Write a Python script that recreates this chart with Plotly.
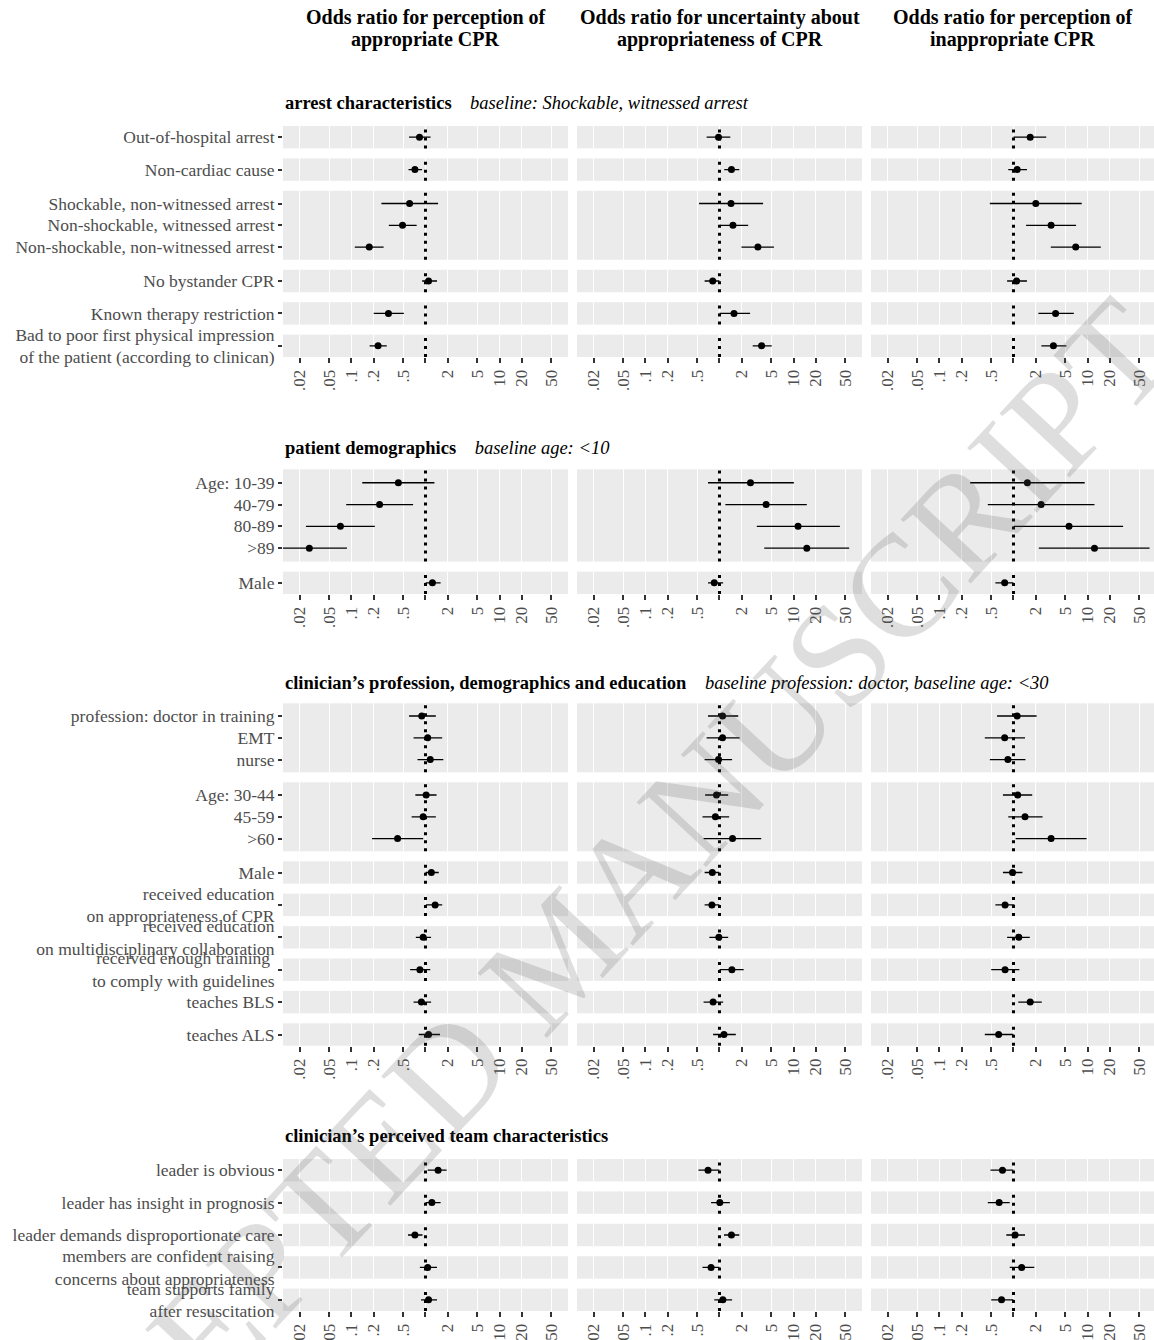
import plotly.graph_objects as go

W, H = 1154, 1340
FONT = "Liberation Serif"

# ---------------- column headings ----------------
column_titles = [
    ["Odds ratio for perception of", "appropriate CPR"],
    ["Odds ratio for uncertainty about", "appropriateness of CPR"],
    ["Odds ratio for perception of", "inappropriate CPR"],
]

x_tick_values = [0.02, 0.05, 0.1, 0.2, 0.5, 1, 2, 5, 10, 20, 50]
x_tick_labels = [".02", ".05", ".1", ".2", ".5", "", "2", "5", "10", "20", "50"]

# ---------------- arrest characteristics ----------------
arrest_groups = [
    ["Out-of-hospital arrest"],
    ["Non-cardiac cause"],
    ["Shockable, non-witnessed arrest", "Non-shockable, witnessed arrest",
     "Non-shockable, non-witnessed arrest"],
    ["No bystander CPR"],
    ["Known therapy restriction"],
    ["Bad to poor first physical impression<br>of the patient (according to clinican)"],
]
arrest_or_appropriate = [0.83, 0.72, 0.61, 0.49, 0.174, 1.10, 0.316, 0.229]
arrest_lo_appropriate = [0.60, 0.59, 0.254, 0.32, 0.111, 0.90, 0.20, 0.176]
arrest_hi_appropriate = [1.17, 0.90, 1.48, 0.76, 0.272, 1.43, 0.51, 0.30]
arrest_or_uncertain = [0.97, 1.45, 1.43, 1.52, 3.30, 0.81, 1.57, 3.70]
arrest_lo_uncertain = [0.67, 1.16, 0.53, 1.00, 1.98, 0.63, 1.00, 2.81]
arrest_hi_uncertain = [1.40, 1.85, 3.88, 2.44, 5.43, 1.00, 2.59, 5.07]
arrest_or_inappropriate = [1.68, 1.12, 2.00, 3.22, 6.92, 1.10, 3.70, 3.46]
arrest_lo_inappropriate = [1.00, 0.85, 0.48, 1.48, 3.19, 0.82, 2.17, 2.38]
arrest_hi_inappropriate = [2.77, 1.52, 8.34, 7.00, 15.1, 1.52, 6.53, 5.18]

# ---------------- patient demographics ----------------
patient_groups = [
    ["Age: 10-39", "40-79", "80-89", ">89"],
    ["Male"],
]
patient_or_appropriate = [0.43, 0.24, 0.071, 0.027, 1.24]
patient_lo_appropriate = [0.14, 0.085, 0.0243, 0.010, 1.00]
patient_hi_appropriate = [1.32, 0.68, 0.207, 0.087, 1.60]
patient_or_uncertain = [2.62, 4.26, 11.5, 15.1, 0.85]
patient_lo_uncertain = [0.70, 1.20, 3.19, 4.02, 0.70]
patient_hi_uncertain = [10.1, 15.1, 42.2, 56.4, 1.12]
patient_or_inappropriate = [1.54, 2.36, 5.62, 12.4, 0.76]
patient_lo_inappropriate = [0.26, 0.45, 1.00, 2.20, 0.57]
patient_hi_inappropriate = [9.15, 12.4, 30.2, 68.7, 1.00]

# ---------------- clinician's profession, demographics and education ----------------
clinician_groups = [
    ["profession: doctor in training", "EMT", "nurse"],
    ["Age: 30-44", "45-59", ">60"],
    ["Male"],
    ["received education<br>on appropriateness of CPR"],
    ["received education<br>on multidisciplinary collaboration"],
    ["received enough training\u00a0<br>to comply with guidelines"],
    ["teaches BLS"],
    ["teaches ALS"],
]
clinician_or_appropriate = [0.89, 1.07, 1.16, 1.02, 0.93, 0.42, 1.20, 1.35, 0.93, 0.84, 0.88, 1.10]
clinician_lo_appropriate = [0.60, 0.69, 0.78, 0.73, 0.65, 0.19, 1.00, 1.01, 0.74, 0.62, 0.69, 0.81]
clinician_hi_appropriate = [1.38, 1.68, 1.74, 1.41, 1.38, 0.93, 1.51, 1.68, 1.19, 1.16, 1.19, 1.57]
clinician_or_uncertain = [1.10, 1.10, 0.97, 0.91, 0.88, 1.50, 0.80, 0.79, 0.98, 1.47, 0.82, 1.15]
clinician_lo_uncertain = [0.70, 0.67, 0.63, 0.64, 0.59, 0.61, 0.63, 0.63, 0.73, 1.00, 0.61, 0.82]
clinician_hi_uncertain = [1.79, 1.87, 1.48, 1.31, 1.35, 3.66, 1.00, 1.00, 1.31, 2.12, 1.12, 1.66]
clinician_or_inappropriate = [1.12, 0.76, 0.84, 1.14, 1.43, 3.22, 0.97, 0.77, 1.18, 0.77, 1.68, 0.63]
clinician_lo_inappropriate = [0.60, 0.41, 0.48, 0.72, 0.85, 1.07, 0.72, 0.57, 0.82, 0.50, 1.16, 0.41]
clinician_hi_inappropriate = [2.05, 1.43, 1.45, 1.79, 2.47, 9.69, 1.32, 1.03, 1.66, 1.20, 2.41, 1.00]

# ---------------- clinician's perceived team characteristics ----------------
team_groups = [
    ["leader is obvious"],
    ["leader has insight in prognosis"],
    ["leader demands disproportionate care"],
    ["members are confident raising<br>concerns about appropriateness"],
    ["team supports family<br>after resuscitation"],
]
team_or_appropriate = [1.48, 1.22, 0.72, 1.07, 1.10]
team_lo_appropriate = [1.07, 1.00, 0.58, 0.84, 0.87]
team_hi_appropriate = [1.93, 1.60, 0.91, 1.43, 1.43]
team_or_uncertain = [0.70, 1.01, 1.45, 0.77, 1.11]
team_lo_uncertain = [0.52, 0.77, 1.15, 0.59, 0.85]
team_hi_uncertain = [1.00, 1.38, 1.85, 1.00, 1.48]
team_or_inappropriate = [0.71, 0.64, 1.05, 1.29, 0.69]
team_lo_inappropriate = [0.49, 0.45, 0.80, 0.89, 0.50]
team_hi_inappropriate = [1.00, 0.89, 1.43, 1.91, 1.00]

sections = [
    ("arrest characteristics", "baseline: Shockable, witnessed arrest", arrest_groups,
     [(arrest_or_appropriate, arrest_lo_appropriate, arrest_hi_appropriate),
      (arrest_or_uncertain, arrest_lo_uncertain, arrest_hi_uncertain),
      (arrest_or_inappropriate, arrest_lo_inappropriate, arrest_hi_inappropriate)]),
    ("patient demographics", "baseline age: &lt;10", patient_groups,
     [(patient_or_appropriate, patient_lo_appropriate, patient_hi_appropriate),
      (patient_or_uncertain, patient_lo_uncertain, patient_hi_uncertain),
      (patient_or_inappropriate, patient_lo_inappropriate, patient_hi_inappropriate)]),
    ("clinician\u2019s profession, demographics and education",
     "baseline profession: doctor, baseline age: &lt;30", clinician_groups,
     [(clinician_or_appropriate, clinician_lo_appropriate, clinician_hi_appropriate),
      (clinician_or_uncertain, clinician_lo_uncertain, clinician_hi_uncertain),
      (clinician_or_inappropriate, clinician_lo_inappropriate, clinician_hi_inappropriate)]),
    ("clinician\u2019s perceived team characteristics", "", team_groups,
     [(team_or_appropriate, team_lo_appropriate, team_hi_appropriate),
      (team_or_uncertain, team_lo_uncertain, team_hi_uncertain),
      (team_or_inappropriate, team_lo_inappropriate, team_hi_inappropriate)]),
]

# ---------------- page geometry (pixels) ----------------
COL_PX = [(283, 568), (577, 862), (871, 1154)]
LOG_LO = -1.924
PX_PER_DECADE = 74.06
SECTION_TITLE_Y = [103, 448, 683, 1136]
SECTION_TOP = [126, 469.3, 703.3, 1159]
STRIP_BASE = 22.4
STRIP_PER_ROW = 23.3
STRIP_GAP = 10
ROW_PITCH = 21.8

fig = go.Figure()
axes = {}
shapes = []
annotations = []
k = 0

for s_idx, (title, baseline, groups, cols) in enumerate(sections):
    top = SECTION_TOP[s_idx]
    start = 0
    for g_idx, labels in enumerate(groups):
        n = len(labels)
        h = STRIP_BASE + (n - 1) * STRIP_PER_ROW
        bottom = top + h
        last = g_idx == len(groups) - 1
        span = h / ROW_PITCH
        mid = (n - 1) / 2
        for c_idx, (ors, los, his) in enumerate(cols):
            k += 1
            sfx = "" if k == 1 else str(k)
            x0, x1 = COL_PX[c_idx]
            o = ors[start:start + n]
            lo = los[start:start + n]
            hi = his[start:start + n]
            fig.add_trace(go.Scatter(
                x=o, y=labels, xaxis="x" + sfx, yaxis="y" + sfx,
                mode="markers", marker=dict(size=7, color="black"),
                error_x=dict(type="data", symmetric=False,
                             array=[b - a for a, b in zip(o, hi)],
                             arrayminus=[a - b for a, b in zip(o, lo)],
                             color="black", thickness=1.3, width=0),
                showlegend=False, hoverinfo="x+y"))
            axes["xaxis" + sfx] = dict(
                domain=[x0 / W, x1 / W], anchor="y" + sfx, type="log",
                range=[LOG_LO, LOG_LO + (x1 - x0) / PX_PER_DECADE],
                tickmode="array", tickvals=x_tick_values, ticktext=x_tick_labels,
                showgrid=True, gridcolor="white", gridwidth=1.3,
                zeroline=False, showline=False,
                ticks="outside" if last else "", ticklen=5, tickwidth=2.2,
                tickcolor="#333333", showticklabels=last, tickangle=-90,
                tickfont=dict(family=FONT, size=17, color="#4D4D4D"))
            axes["yaxis" + sfx] = dict(
                domain=[1 - bottom / H, 1 - top / H], anchor="x" + sfx,
                type="category", categoryorder="array", categoryarray=labels,
                range=[mid + span / 2, mid - span / 2],
                showgrid=False, zeroline=False, showline=False,
                ticks="outside" if c_idx == 0 else "", ticklen=4, tickwidth=2.2,
                tickcolor="#333333", showticklabels=c_idx == 0,
                tickfont=dict(family=FONT, size=17.5, color="#4D4D4D"))
            # reference line at odds ratio 1
            shapes.append(dict(type="line", xref="x" + sfx, yref=f"y{sfx} domain",
                               x0=1, x1=1, y0=0, y1=1, layer="above",
                               line=dict(color="black", width=3, dash="3px,5px")))
        start += n
        top = bottom + STRIP_GAP

    head = f"<b>{title}</b>"
    if baseline:
        head += f"\u2002\u2002<i>{baseline}</i>"
    annotations.append(dict(text=head, xref="paper", yref="paper",
                            x=COL_PX[0][0] / W, y=1 - SECTION_TITLE_Y[s_idx] / H,
                            xanchor="left", yanchor="middle", showarrow=False,
                            font=dict(family=FONT, size=18.5, color="black")))

for c_idx, lines in enumerate(column_titles):
    cx = (COL_PX[c_idx][0] + COL_PX[c_idx][1]) / 2
    for line, ly in zip(lines, [18, 39]):
        annotations.append(dict(text=f"<b>{line}</b>", xref="paper", yref="paper",
                                x=cx / W, y=1 - ly / H, xanchor="center", yanchor="middle",
                                showarrow=False,
                                font=dict(family=FONT, size=20, color="black")))

# diagonal watermark
annotations.append(dict(text="ACCEPTED MANUSCRIPT", xref="paper", yref="paper",
                        x=559 / W, y=1 - 953 / H, xanchor="center", yanchor="middle",
                        textangle=-47, showarrow=False,
                        font=dict(family=FONT, size=145, color="rgba(90,90,90,0.2)")))

fig.update_layout(
    template="none", width=W, height=H,
    margin=dict(l=0, r=0, t=0, b=0),
    plot_bgcolor="#EBEBEB", paper_bgcolor="white",
    font=dict(family=FONT, color="#4D4D4D"),
    shapes=shapes, annotations=annotations, showlegend=False,
    **axes)

fig.write_html("out.html", config={"displayModeBar": False})
